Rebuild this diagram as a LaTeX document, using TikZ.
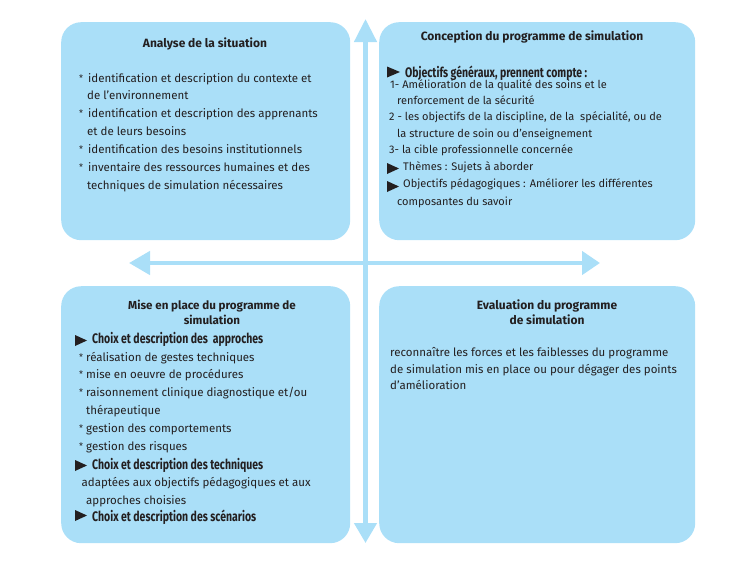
\documentclass[tikz,border=0pt]{standalone}
\usepackage{fontspec}
\setmainfont{Fira Sans}
\usetikzlibrary{arrows.meta}
\definecolor{boxblue}{RGB}{170,223,248}
\definecolor{ink}{RGB}{35,31,32}
\newcommand\cnd[2]{\resizebox{#1}{1.15\height}{\fontsize{12}{14}\selectfont\bfseries #2}}
\begin{document}
\begin{tikzpicture}[x=1pt,y=-1pt,
  panel/.style={fill=boxblue, draw=none, rounded corners=20pt, anchor=north west, inner sep=0pt},
  txt/.style={anchor=base west, inner sep=0pt, text=ink, font=\fontsize{11.5}{13}\selectfont},
  star/.style={txt, font=\fontsize{9}{10}\selectfont},
  btxt/.style={txt, font=\fontsize{11}{13}\selectfont},
  ttl/.style={anchor=base, inner sep=0pt, text=ink, font=\fontsize{12}{14}\selectfont\bfseries},
  cttl/.style={ttl, font=\fontsize{11.6}{13}\selectfont\bfseries},
  link/.style={draw=boxblue, line width=4.5pt},
  tipmark/.style={fill=ink}]
\useasboundingbox (0,0) rectangle (751,565);
% panels
\node[panel, minimum width=289pt, minimum height=218pt] (A) at (61,22) {};
\node[panel, minimum width=316pt, minimum height=218pt] (B) at (379,22) {};
\node[panel, minimum width=289pt, minimum height=257pt] (C) at (61,286) {};
\node[panel, minimum width=316pt, minimum height=257pt] (D) at (379,286) {};
% axes
\coordinate (vt) at (365.5,19);
\coordinate (vb) at (365.5,543);
\coordinate (hl) at (129,263);
\coordinate (hr) at (600,263);
\draw[link, {Triangle[width=22pt,length=23pt]}-{Triangle[width=22pt,length=20pt]}] (vt) -- (vb);
\draw[link, {Triangle[width=23pt,length=21pt]}-{Triangle[width=23pt,length=18pt]}] (hl) -- (hr);
% box A
\node[ttl] (a0) at (205,47) {Analyse de la situation};
\node[star] (a1s) at (79,81) {*};
\node[txt] (a1) at (88,82) {identification et description du contexte et};
\node[txt] (a2) at (87,99.5) {de l’environnement};
\node[star] (a3s) at (79,116.5) {*};
\node[txt] (a3) at (88,117.5) {identification et description des apprenants};
\node[txt] (a4) at (87,135) {et de leurs besoins};
\node[star] (a5s) at (79,152.5) {*};
\node[txt] (a5) at (88,153.5) {identification des besoins institutionnels};
\node[star] (a6s) at (79,170) {*};
\node[txt] (a6) at (88,171) {inventaire des ressources humaines et des};
\node[txt] (a7) at (87,189) {techniques de simulation nécessaires};
% box B
\node[ttl] (b0) at (532,40) {Conception du programme de simulation};
\fill[tipmark] (387,66.5) -- (400,72) -- (387,77.5) -- cycle;
\node[txt] (b1) at (405,77) {\cnd{182pt}{Objectifs généraux, prennent compte :}};
\node[btxt] (b2) at (390,88) {1- Amélioration de la qualité des soins et le};
\node[btxt] (b3) at (397,104) {renforcement de la sécurité};
\node[btxt] (b4) at (389,120.5) {2 - les objectifs de la discipline, de la \ spécialité, ou de};
\node[btxt] (b5) at (397,137) {la structure de soin ou d'enseignement};
\node[btxt] (b6) at (389,153.5) {3- la cible professionnelle concernée};
\fill[tipmark] (387,163) -- (399,168.5) -- (387,174) -- cycle;
\node[btxt] (b7) at (403,170) {Thèmes : Sujets à aborder};
\fill[tipmark] (387,181) -- (399,186.5) -- (387,192) -- cycle;
\node[btxt] (b8) at (403,187.5) {Objectifs pédagogiques : Améliorer les différentes};
\node[btxt] (b9) at (397,205) {composantes du savoir};
% box C
\node[cttl] (c0) at (212,309) {Mise en place du programme de};
\node[cttl] (c0b) at (212,324) {simulation};
\fill[tipmark] (75,335) -- (87,340.5) -- (75,346) -- cycle;
\node[txt] (c1) at (92,343) {\cnd{171pt}{Choix et description des \ approches}};
\node[star] (c2s) at (79,360) {*};
\node[txt] (c2) at (86,361) {réalisation de gestes techniques};
\node[star] (c3s) at (79,377.5) {*};
\node[txt] (c3) at (86,378.5) {mise en oeuvre de procédures};
\node[star] (c4s) at (79,395.5) {*};
\node[txt] (c4) at (86,396.5) {raisonnement clinique diagnostique et/ou};
\node[txt] (c5) at (86,414.5) {thérapeutique};
\node[star] (c6s) at (79,431.5) {*};
\node[txt] (c6) at (86,432.5) {gestion des comportements};
\node[star] (c7s) at (79,449) {*};
\node[txt] (c7) at (86,450) {gestion des risques};
\fill[tipmark] (75,460) -- (87,465.5) -- (75,471) -- cycle;
\node[txt] (c8) at (92,469) {\cnd{171pt}{Choix et description des techniques}};
\node[txt] (c9) at (81.5,486.5) {adaptées aux objectifs pédagogiques et aux};
\node[txt] (c10) at (86,504) {approches choisies};
\fill[tipmark] (75,510) -- (87,515.5) -- (75,521) -- cycle;
\node[txt] (c11) at (92,521) {\cnd{164pt}{Choix et description des scénarios}};
% box D
\node[ttl] (d0) at (547,309) {Evaluation du programme};
\node[ttl] (d0b) at (547,324) {de simulation};
\node[txt] (d1) at (390,356) {reconnaître les forces et les faiblesses du programme};
\node[txt] (d2) at (390,373) {de simulation mis en place ou pour dégager des points};
\node[txt] (d3) at (390,389.5) {d’amélioration};
\end{tikzpicture}
\end{document}
